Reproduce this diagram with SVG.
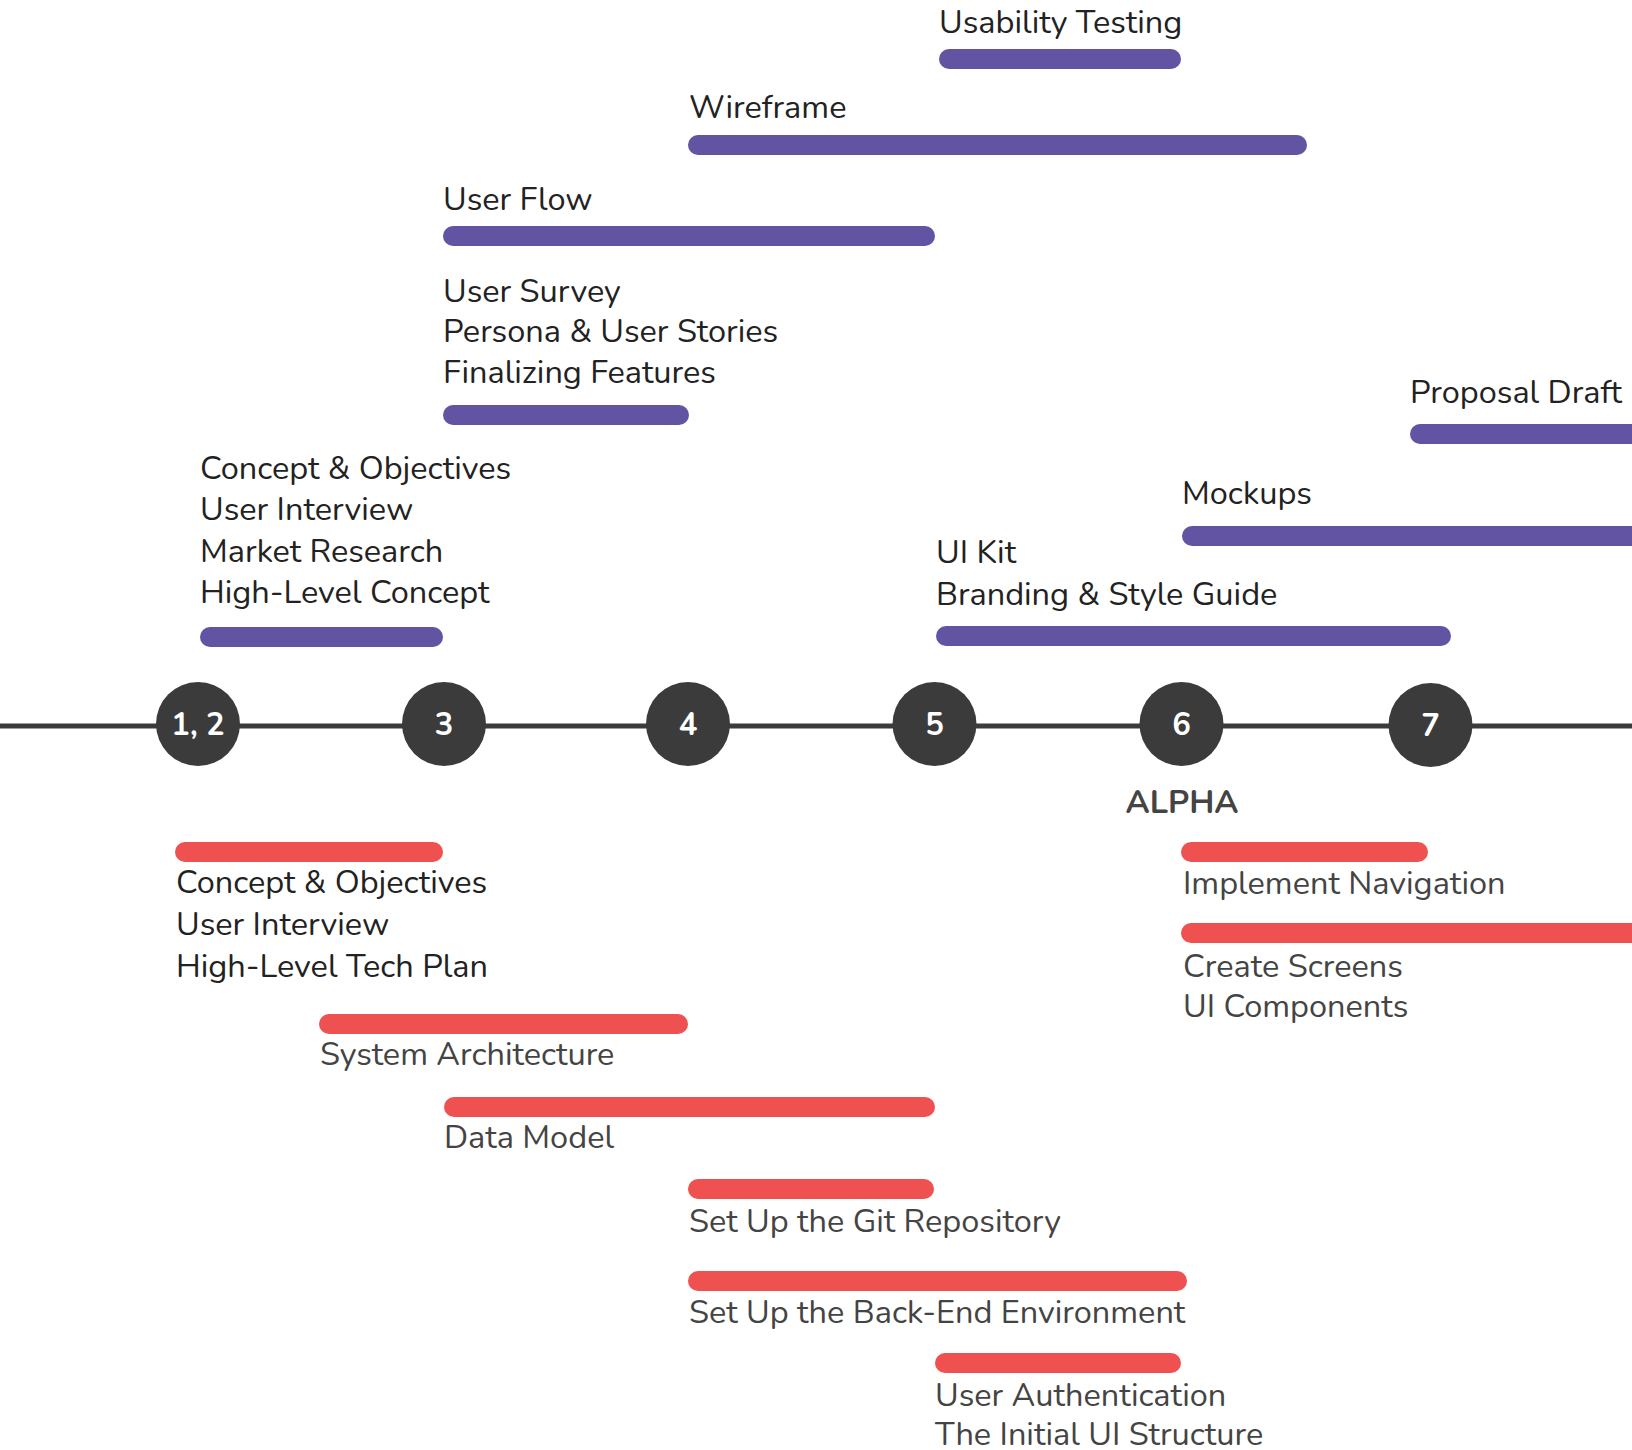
<svg xmlns="http://www.w3.org/2000/svg" width="1632" height="1450" viewBox="0 0 1632 1450">
  <style>
    .t { font-family: "Nunito", "Lato", "Noto Sans", sans-serif; font-size: 32.5px; fill: #222; }
    .g { fill: #444; }
    .pb { fill: #6254a2; }
    .rb { fill: #ef5050; }
    .num { font-family: "Nunito", "Lato", "Noto Sans", sans-serif; font-size: 31px; font-weight: bold; fill: #fff; text-anchor: middle; }
    .alpha { font-family: "Nunito", "Lato", "Noto Sans", sans-serif; font-size: 32.5px; font-weight: bold; fill: #444; text-anchor: middle; }
    .m { fill: #3b3b3b; }
  </style>
  <rect width="1632" height="1450" fill="#fff"/>
  <g id="connectors">
    <line x1="0" y1="726" x2="1632" y2="726" stroke="#3b3b3b" stroke-width="5"/>
  </g>
  <g id="milestone-1-2"><circle class="m" cx="198" cy="724" r="42"/><text class="num" x="198" y="735">1, 2</text></g>
  <g id="milestone-3"><circle class="m" cx="444" cy="724" r="42"/><text class="num" x="444" y="735">3</text></g>
  <g id="milestone-4"><circle class="m" cx="688" cy="724" r="42"/><text class="num" x="688" y="735">4</text></g>
  <g id="milestone-5"><circle class="m" cx="934.5" cy="724" r="42"/><text class="num" x="934.5" y="735">5</text></g>
  <g id="milestone-6"><circle class="m" cx="1181.5" cy="724" r="42"/><text class="num" x="1181.5" y="735">6</text></g>
  <g id="milestone-7"><circle class="m" cx="1430.5" cy="725" r="42"/><text class="num" x="1430.5" y="736">7</text></g>
  <g id="alpha-label"><text class="alpha" x="1182" y="813">ALPHA</text></g>

  <g id="task-usability-testing"><rect class="pb" x="939" y="49" width="242" height="20" rx="10"/><text class="t" x="939" y="33">Usability Testing</text></g>
  <g id="task-wireframe"><rect class="pb" x="688" y="135" width="619" height="20" rx="10"/><text class="t" x="689" y="118">Wireframe</text></g>
  <g id="task-user-flow"><rect class="pb" x="443" y="226" width="492" height="20" rx="10"/><text class="t" x="443" y="210">User Flow</text></g>
  <g id="task-user-survey"><rect class="pb" x="443" y="405" width="246" height="20" rx="10"/>
    <text class="t" x="443" y="302">User Survey</text>
    <text class="t" x="443" y="342">Persona &amp; User Stories</text>
    <text class="t" x="443" y="383">Finalizing Features</text></g>
  <g id="task-concept-design"><rect class="pb" x="200" y="627" width="243" height="20" rx="10"/>
    <text class="t" x="200" y="479">Concept &amp; Objectives</text>
    <text class="t" x="200" y="520">User Interview</text>
    <text class="t" x="200" y="562">Market Research</text>
    <text class="t" x="200" y="603">High-Level Concept</text></g>
  <g id="task-proposal-draft"><rect class="pb" x="1410" y="424" width="240" height="20" rx="10"/><text class="t" x="1410" y="403">Proposal Draft</text></g>
  <g id="task-mockups"><rect class="pb" x="1182" y="526" width="470" height="20" rx="10"/><text class="t" x="1182" y="504">Mockups</text></g>
  <g id="task-ui-kit"><rect class="pb" x="936" y="626" width="515" height="20" rx="10"/>
    <text class="t" x="936" y="563">UI Kit</text>
    <text class="t" x="936" y="605">Branding &amp; Style Guide</text></g>

  <g id="dev-concept"><rect class="rb" x="175" y="842" width="268" height="20" rx="10"/>
    <text class="t" x="176" y="893">Concept &amp; Objectives</text>
    <text class="t" x="176" y="935">User Interview</text>
    <text class="t" x="176" y="977">High-Level Tech Plan</text></g>
  <g id="dev-system-architecture"><rect class="rb" x="319" y="1014" width="369" height="20" rx="10"/><text class="t g" x="320" y="1065">System Architecture</text></g>
  <g id="dev-data-model"><rect class="rb" x="444" y="1097" width="491" height="20" rx="10"/><text class="t g" x="444" y="1148">Data Model</text></g>
  <g id="dev-git"><rect class="rb" x="688" y="1179" width="246" height="20" rx="10"/><text class="t g" x="689" y="1232">Set Up the Git Repository</text></g>
  <g id="dev-backend"><rect class="rb" x="688" y="1271" width="499" height="20" rx="10"/><text class="t g" x="689" y="1323">Set Up the Back-End Environment</text></g>
  <g id="dev-auth"><rect class="rb" x="935" y="1353" width="246" height="20" rx="10"/>
    <text class="t g" x="935" y="1406">User Authentication</text>
    <text class="t g" x="935" y="1445">The Initial UI Structure</text></g>
  <g id="dev-navigation"><rect class="rb" x="1181" y="842" width="247" height="20" rx="10"/><text class="t g" x="1183" y="894">Implement Navigation</text></g>
  <g id="dev-screens"><rect class="rb" x="1181" y="923" width="470" height="20" rx="10"/>
    <text class="t g" x="1183" y="977">Create Screens</text>
    <text class="t g" x="1183" y="1017">UI Components</text></g>
</svg>
